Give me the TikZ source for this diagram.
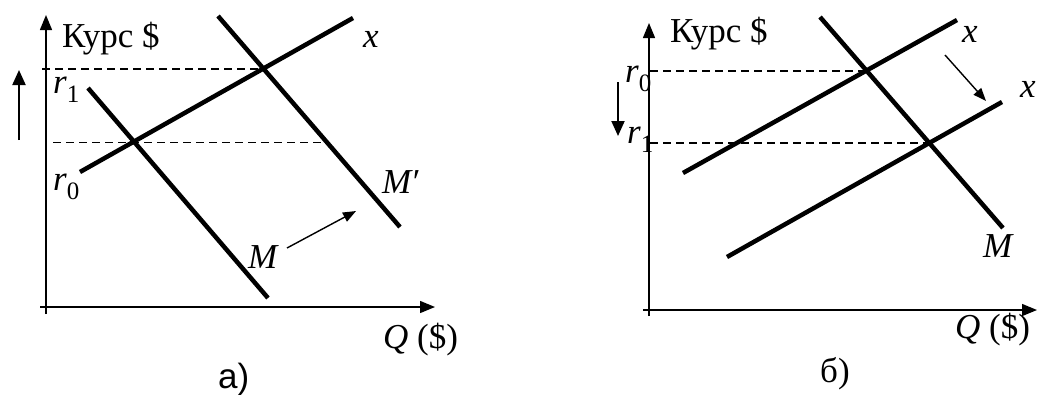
\documentclass[tikz,border=0pt]{standalone}
\usepackage{fontspec}
\setmainfont{Liberation Serif}
\newfontfamily\tnr{Liberation Serif}
\newfontfamily\arialf{Liberation Sans}
\usetikzlibrary{arrows.meta}
\newcommand\rlab[1]{\textit{r}\raisebox{-0.28em}{\fontsize{25}{25}\selectfont #1}}
\begin{document}
\begin{tikzpicture}[x=1pt,y=-1pt,
  curve/.style={line width=4.5pt},
  axis/.style={line width=1.4pt,-{Triangle[length=15pt,width=12pt]}},
  guide/.style={line width=1.4pt,dash pattern=on 8pt off 5pt},
  shiftarrow/.style={line width=1.4pt,-{Triangle[length=13pt,width=10pt]}},
  vshift/.style={line width=2pt,-{Triangle[length=15pt,width=13pt]}},
  lbl/.style={font=\tnr\fontsize{35}{40}\selectfont, inner sep=0pt, anchor=base west},
  ]
\useasboundingbox (0,0) rectangle (1038,394);
% ---------- panel a ----------
\coordinate (ayb) at (46,314); \coordinate (ayt) at (46,15);
\coordinate (axl) at (40,307); \coordinate (axr) at (435,307);
\draw[axis] (ayb) -- (ayt);
\draw[axis] (axl) -- (axr);
\coordinate (ax1) at (80,172); \coordinate (ax2) at (353,18);
\coordinate (aM1) at (88,88); \coordinate (aM2) at (268,298);
\coordinate (aN1) at (218,16); \coordinate (aN2) at (400,227);
\coordinate (aE0) at (133.9,142.7); \coordinate (aE1) at (263.4,69);
\coordinate (ad1) at (42,69); \coordinate (ad0s) at (53,142.7); \coordinate (ad0e) at (325,142.7);
\draw[guide] (ad1) -- (aE1);
\draw[guide] (ad0s) -- (ad0e);
\draw[curve] (ax1) -- (ax2);
\draw[curve] (aM1) -- (aM2);
\draw[curve] (aN1) -- (aN2);
\node[lbl] (akurs) at (62,47) {Курс \$};
\node[lbl] (ar1) at (53,93) {\rlab{1}};
\node[lbl] (ar0) at (53,190) {\rlab{0}};
\node[lbl] (axlab) at (363,47) {\textit{x}};
\node[lbl] (aMp) at (382,193) {\textit{M}′};
\node[lbl] (aMl) at (248,268) {\textit{M}};
\node[lbl] (aQ) at (383,348) {\textit{Q} (\$)};
\node[lbl,font=\arialf\fontsize{35}{40}\selectfont] (acap) at (218,388) {a)};
\coordinate (aas) at (287,248); \coordinate (aae) at (356,211);
\draw[shiftarrow] (aas) -- (aae);
\coordinate (aus) at (19,140); \coordinate (aue) at (19,70);
\draw[vshift] (aus) -- (aue);
% ---------- panel b ----------
\coordinate (byb) at (649,316); \coordinate (byt) at (649,23);
\coordinate (bxl) at (643,310); \coordinate (bxr) at (1037,310);
\draw[axis] (byb) -- (byt);
\draw[axis] (bxl) -- (bxr);
\coordinate (bx1) at (683,173); \coordinate (bx2) at (957,20);
\coordinate (by1) at (727,257); \coordinate (by2) at (1002,102);
\coordinate (bM1) at (820,17); \coordinate (bM2) at (1003,228);
\coordinate (bE0) at (866.5,71); \coordinate (bE1) at (929.2,143);
\coordinate (bd0) at (650,71); \coordinate (bd1) at (650,143);
\draw[guide] (bd0) -- (bE0);
\draw[guide] (bd1) -- (bE1);
\draw[curve] (bx1) -- (bx2);
\draw[curve] (by1) -- (by2);
\draw[curve] (bM1) -- (bM2);
\node[lbl] (bkurs) at (670,42) {Курс \$};
\node[lbl] (br0) at (625,82) {\rlab{0}};
\node[lbl] (br1) at (627,143) {\rlab{1}};
\node[lbl] (bxu) at (962,42) {\textit{x}};
\node[lbl] (bxd) at (1020,97) {\textit{x}};
\node[lbl] (bMl) at (983,257) {\textit{M}};
\node[lbl] (bQ) at (955,338) {\textit{Q} (\$)};
\node[lbl] (bcap) at (820,382) {б)};
\coordinate (bas) at (945,55); \coordinate (bae) at (986,101);
\draw[shiftarrow] (bas) -- (bae);
\coordinate (bds) at (618,82); \coordinate (bde) at (618,136);
\draw[vshift] (bds) -- (bde);
\end{tikzpicture}
\end{document}
